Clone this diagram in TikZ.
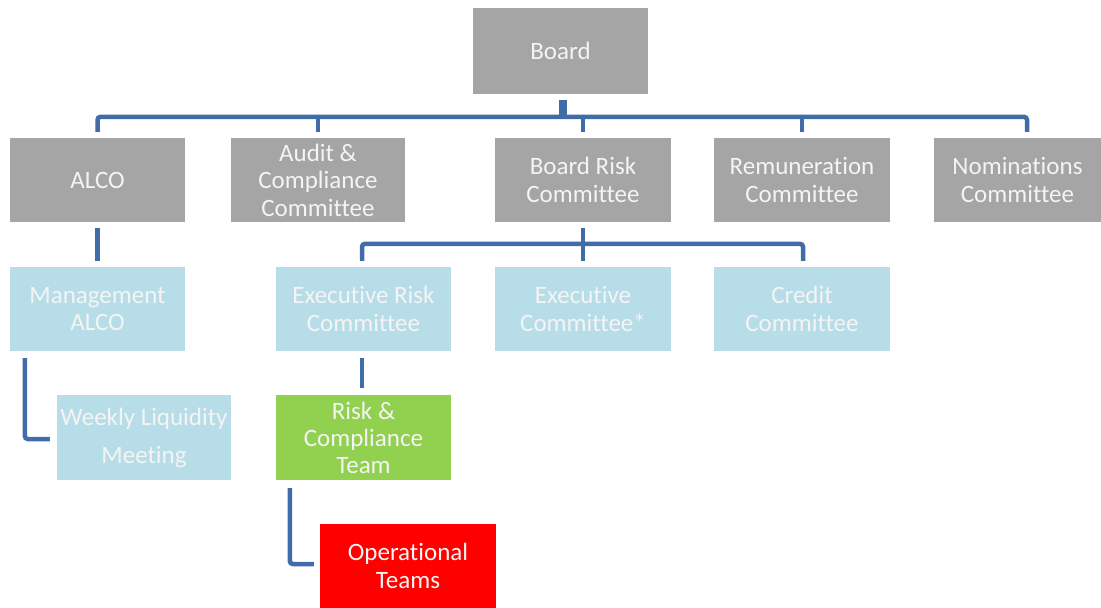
\documentclass[tikz,border=0pt]{standalone}
\usepackage{fontspec}
\setmainfont[Ligatures=NoCommon]{Carlito}
\definecolor{boxgray}{HTML}{A5A5A5}
\definecolor{boxblue}{HTML}{B7DEE8}
\definecolor{boxgreen}{HTML}{92D050}
\definecolor{boxred}{HTML}{FF0000}
\definecolor{linkblue}{RGB}{64,108,168}
\definecolor{txtwhite}{HTML}{F4F4F4}
\begin{document}
\begin{tikzpicture}[x=1pt,y=-1pt,
  box/.style={draw=none,inner sep=0pt,minimum width=175pt,minimum height=84pt,
    align=center,text=txtwhite,font=\fontsize{25pt}{27.5pt}\selectfont},
  graybox/.style={box,fill=boxgray},
  bluebox/.style={box,fill=boxblue},
  conn/.style={draw=linkblue,line width=4.5pt,rounded corners=3pt}]
\useasboundingbox (0,0) rectangle (1101,608);
% level 1
\node[graybox,minimum height=86pt] (Board) at (560.5,51) {Board};
% level 2
\node[graybox] (ALCO) at (97.5,180) {ALCO};
\node[graybox,minimum width=174pt] (Audit) at (318,180) {Audit \&\\Compliance\\Committee};
\node[graybox,minimum width=176pt] (BRC) at (583,180) {Board Risk\\Committee};
\node[graybox,minimum width=176pt] (Remun) at (802,180) {Remuneration\\Committee};
\node[graybox,minimum width=167pt] (Nomin) at (1017.5,180) {Nominations\\Committee};
% level 3
\node[bluebox] (MALCO) at (97.5,309) {Management\\ALCO};
\node[bluebox] (ERC) at (363.5,309) {Executive Risk\\Committee};
\node[bluebox,minimum width=176pt] (ExecCom) at (583,309) {Executive\\Committee*};
\node[bluebox,minimum width=176pt] (Credit) at (802,309) {Credit\\Committee};
% level 4
\node[bluebox,minimum width=174pt,minimum height=85pt,font=\fontsize{25pt}{38pt}\selectfont] (Weekly) at (144,437.5) {Weekly Liquidity\\Meeting};
\node[box,fill=boxgreen,minimum height=85pt,font=\fontsize{25pt}{27pt}\selectfont] (Risk) at (363.5,437.5) {Risk \&\\Compliance\\Team};
% level 5
\node[box,fill=boxred,minimum width=176pt] (Ops) at (408,566) {Operational\\Teams};
% connectors: board bus
\draw[draw=linkblue,line width=8pt] ([xshift=2.5pt,yshift=-6pt]Board.south) -- ++(0,17);
\draw[conn] ([yshift=6pt]ALCO.north) -- ++(0,-15) -| ([xshift=9.5pt,yshift=6pt]Nomin.north);
\draw[conn] ([yshift=6pt]Audit.north) -- ++(0,-16);
\draw[conn] ([yshift=6pt]BRC.north) -- ++(0,-16);
\draw[conn] ([yshift=6pt]Remun.north) -- ++(0,-16);
% ALCO to Management ALCO
\draw[conn,shorten <=6pt,shorten >=6pt] (ALCO) -- (MALCO);
% Board Risk bus
\draw[conn] ([yshift=-6pt]BRC.south) -- ([yshift=6pt]ExecCom.north);
\draw[conn] ([xshift=-1.5pt,yshift=6pt]ERC.north) -- ++(0,-17) -| ([xshift=1pt,yshift=6pt]Credit.north);
% Management ALCO to Weekly
\draw[conn] ([xshift=15pt,yshift=-7pt]MALCO.south west) |- ([xshift=-7pt,yshift=-1.5pt]Weekly.west);
% ERC to Risk
\draw[conn,shorten <=7pt,shorten >=7pt] ([xshift=-1.5pt]ERC.south) -- ([xshift=-1.5pt]Risk.north);
% Risk to Ops
\draw[conn] ([xshift=14pt,yshift=-8pt]Risk.south west) |- ([xshift=-6pt,yshift=2pt]Ops.west);
\end{tikzpicture}
\end{document}
